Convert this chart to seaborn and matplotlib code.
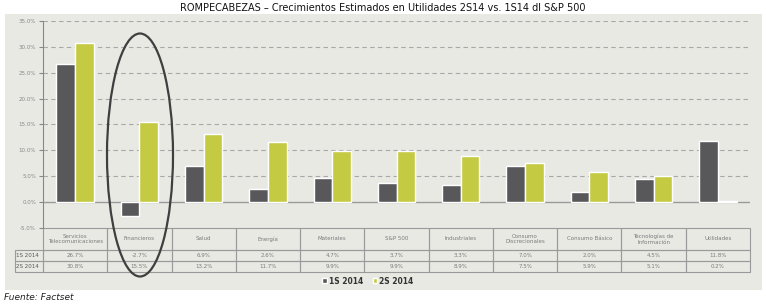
import numpy as np
import pandas as pd
import matplotlib
matplotlib.use("Agg")
import matplotlib.pyplot as plt
from matplotlib.patches import Ellipse, FancyBboxPatch
import seaborn as sns

# Data
categorias = ["Servicios\nTelecomunicaciones", "Financieros", "Salud", "Energía", "Materiales",
              "S&P 500", "Industriales", "Consumo\nDiscrecionales", "Consumo Básico",
              "Tecnologías de\nInformación", "Utilidades"]
series = ["1S 2014", "2S 2014"]
s1_2014 = [26.7, -2.7, 6.9, 2.6, 4.7, 3.7, 3.3, 7.0, 2.0, 4.5, 11.8]
s2_2014 = [30.8, 15.5, 13.2, 11.7, 9.9, 9.9, 8.9, 7.5, 5.9, 5.1, 0.2]
colores = ["#58585a", "#c4ca42"]

df = pd.DataFrame({
    "categoria": categorias * 2,
    "serie": [series[0]] * len(categorias) + [series[1]] * len(categorias),
    "valor": s1_2014 + s2_2014,
})

sns.set_style("white")
plt.rcParams["font.family"] = ["DejaVu Sans"]

fig = plt.figure(figsize=(7.66, 3.07), dpi=100)
W, H = 766, 307

# light gray panel
panel = FancyBboxPatch((5 / W, 1 - 290 / H), 757 / W, 276 / H, boxstyle="square,pad=0",
                       transform=fig.transFigure, facecolor="#e9e9e4", edgecolor="none", zorder=0)
fig.add_artist(panel)

ax = fig.add_axes([43 / W, 1 - 228 / H, 707 / W, 207 / H])
ax.set_facecolor("none")

sns.barplot(data=df, x="categoria", y="valor", hue="serie", order=categorias,
            palette=colores, width=0.58, saturation=1, ax=ax, legend=True, zorder=3)

ax.set_ylim(-5, 35)
ax.set_xlim(-0.5, len(categorias) - 0.5)
ax.set_yticks(np.arange(-5, 36, 5))
ax.set_yticklabels([f"{v:.1f}%" for v in np.arange(-5, 36, 5)], fontsize=4, color="#888888")
ax.tick_params(axis="y", length=3, width=0.8, color="#888888", pad=2, left=True)
ax.set_xticks([])
ax.set_xlabel("")
ax.set_ylabel("")
for v in np.arange(5, 36, 5):
    ax.axhline(v, color="#a8a8a8", lw=0.8, ls=(0, (4, 3)), zorder=1)
ax.axhline(0, color="#9a9a9a", lw=1, zorder=2)
for s in ["top", "right", "bottom"]:
    ax.spines[s].set_visible(False)
ax.spines["left"].set_color("#888888")
ax.spines["left"].set_linewidth(0.8)

# Data table under the chart (first column holds the series names)
cell_text = [[series[0]] + [f"{v:.1f}%" for v in s1_2014],
             [series[1]] + [f"{v:.1f}%" for v in s2_2014]]
tabla = ax.table(cellText=cell_text, colLabels=[""] + categorias, cellLoc="center",
                 bbox=[-28 / 707, -44 / 207, 735 / 707, 44 / 207])
tabla.auto_set_font_size(False)
tabla.set_fontsize(4)
for (r, c), cell in tabla.get_celld().items():
    cell.set_edgecolor("#9a9a9a")
    cell.set_linewidth(0.8)
    cell.set_facecolor("none")
    cell.get_text().set_color("#7a7a7a")
    cell.set_width(28 if c == 0 else 64.3)
    cell.set_height(22 if r == 0 else 11)
    if c == 0:
        cell.get_text().set_color("#555555")
        cell.get_text().set_horizontalalignment("left")
        cell._loc = "left"
        cell.PAD = 0.03
        if r == 0:
            cell.set_edgecolor("none")

# Legend
leg = ax.legend(loc="center", bbox_to_anchor=(368 / W, 1 - 281 / H), bbox_transform=fig.transFigure,
                ncol=2, frameon=False, fontsize=5.5, handlelength=0.6, handleheight=0.6,
                handletextpad=0.3, columnspacing=1.2)
for t in leg.get_texts():
    t.set_color("#333333")
    t.set_fontweight("bold")

# Ellipse around Financieros
fig.add_artist(Ellipse((140 / W, 1 - 155 / H), 66 / W, 243 / H, transform=fig.transFigure,
                       fill=False, edgecolor="#3f3f3f", lw=1.6, zorder=10))

fig.text(383 / W, 1 - 8 / H, "ROMPECABEZAS – Crecimientos Estimados en Utilidades 2S14 vs. 1S14 dl S&P 500",
         ha="center", va="center", fontsize=7, color="#111111")
fig.text(4 / W, 1 - 298 / H, "Fuente: Factset", ha="left", va="center", fontsize=6.5,
         style="italic", color="#222222")

fig.savefig("out.png", dpi=100)
